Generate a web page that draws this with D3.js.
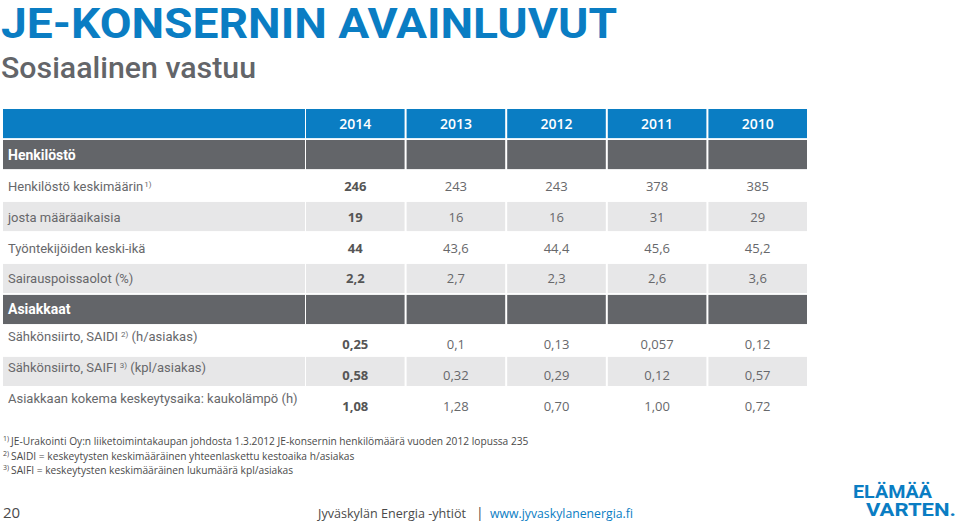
<!DOCTYPE html>
<html>
<head>
<meta charset="utf-8">
<script src="https://cdn.jsdelivr.net/npm/d3@7"></script>
<style>
  body { margin: 0; background: #fff; }
  svg { display: block; }
</style>
</head>
<body>
<svg id="chart"></svg>
<script>
// data
var years = ["2014", "2013", "2012", "2011", "2010"];
var rowLabels = ["Henkilöstö", "Henkilöstö keskimäärin", "josta määräaikaisia", "Työntekijöiden keski-ikä",
  "Sairauspoissaolot (%)", "Asiakkaat", "Sähkönsiirto, SAIDI", "Sähkönsiirto, SAIFI",
  "Asiakkaan kokema keskeytysaika: kaukolämpö (h)"];
var rowNotes = ["", "1)", "", "", "", "", "2)", "3)", ""];
var rowUnits = ["", "", "", "", "", "", " (h/asiakas)", " (kpl/asiakas)", ""];
var sectionRows = ["Henkilöstö", "Asiakkaat"];

var henkilosto = ["246", "243", "243", "378", "385"];
var maaraaikaiset = ["19", "16", "16", "31", "29"];
var keskiIka = ["44", "43,6", "44,4", "45,6", "45,2"];
var sairauspoissaolot = ["2,2", "2,7", "2,3", "2,6", "3,6"];
var saidi = ["0,25", "0,1", "0,13", "0,057", "0,12"];
var saifi = ["0,58", "0,32", "0,29", "0,12", "0,57"];
var kaukolampo = ["1,08", "1,28", "0,70", "1,00", "0,72"];
var rowValues = [null, henkilosto, maaraaikaiset, keskiIka, sairauspoissaolot, null, saidi, saifi, kaukolampo];

var footnotes = [
  ["1)", "JE-Urakointi Oy:n liiketoimintakaupan johdosta 1.3.2012 JE-konsernin henkilömäärä vuoden 2012 lopussa 235"],
  ["2)", "SAIDI = keskeytysten keskimääräinen yhteenlaskettu kestoaika h/asiakas"],
  ["3)", "SAIFI = keskeytysten keskimääräinen lukumäärä kpl/asiakas"]
];

var width = 960, height = 521;
var blue = "#0a7dc3", dark = "#636569", light = "#e7e7e8", txt = "#67686b";
var labelFont = "Roboto, 'DejaVu Sans', sans-serif";
var numFont = "'Open Sans', 'Liberation Sans', sans-serif";

var svg = d3.select("#chart").attr("width", width).attr("height", height);

// title
svg.append("text").attr("x", 1).attr("y", 38)
  .attr("font-family", labelFont).attr("font-weight", 700).attr("font-size", 42)
  .attr("fill", blue).attr("textLength", 616).attr("lengthAdjust", "spacingAndGlyphs")
  .text("JE-KONSERNIN AVAINLUVUT");
svg.append("text").attr("x", 1).attr("y", 78)
  .attr("font-family", labelFont).attr("font-weight", 500).attr("font-size", 30)
  .attr("fill", dark).attr("textLength", 255).attr("lengthAdjust", "spacingAndGlyphs")
  .text("Sosiaalinen vastuu");

// scales
var rowIdx = d3.range(rowLabels.length + 1); // 0 = header
var y = d3.scaleBand().domain(rowIdx).range([109, 417]).paddingInner(0.06);
var x = d3.scaleBand().domain(years).range([306, 807]).paddingInner(0.02);
var labelLeft = 3, labelRight = 305;

function rowFill(i) {
  if (i === 0) return blue;
  var lab = rowLabels[i - 1];
  if (sectionRows.indexOf(lab) >= 0) return dark;
  var k = i <= 5 ? i - 2 : i - 7;
  return k % 2 === 0 ? "#fff" : light;
}

var rows = svg.selectAll("g.row").data(rowIdx).enter().append("g").attr("class", "row");

rows.append("rect")
  .attr("x", labelLeft).attr("y", function(d) { return y(d); })
  .attr("width", labelRight - labelLeft).attr("height", y.bandwidth())
  .attr("fill", rowFill);

rows.each(function(d) {
  d3.select(this).selectAll("rect.cell").data(years).enter().append("rect")
    .attr("class", "cell")
    .attr("x", function(yr) { return x(yr); }).attr("y", y(d))
    .attr("width", x.bandwidth()).attr("height", y.bandwidth())
    .attr("fill", rowFill(d));
});

// header
svg.selectAll("text.year").data(years).enter().append("text")
  .attr("class", "year")
  .attr("x", function(d) { return x(d) + x.bandwidth() / 2; })
  .attr("y", y(0) + y.bandwidth() / 2 + 5)
  .attr("text-anchor", "middle").attr("fill", "#fff")
  .attr("font-family", numFont).attr("font-weight", 600).attr("font-size", 14)
  .text(function(d) { return d; });

// row labels + values
rowLabels.forEach(function(lab, j) {
  var i = j + 1;
  var isSection = sectionRows.indexOf(lab) >= 0;
  var shifted = i >= 7;
  var t = svg.append("text")
    .attr("x", 8)
    .attr("y", y(i) + y.bandwidth() / 2 + 5 - (shifted ? 4 : 0))
    .attr("font-family", labelFont)
    .attr("font-size", isSection ? 14 : 13)
    .attr("font-weight", isSection ? 700 : 400)
    .attr("fill", isSection ? "#fff" : txt);
  t.append("tspan").text(lab);
  if (rowNotes[j]) {
    t.append("tspan").attr("font-size", 8).attr("dy", -4).attr("dx", rowUnits[j] ? 3 : 1).text(rowNotes[j]);
    if (rowUnits[j]) t.append("tspan").attr("dy", 4).text(rowUnits[j]);
  }

  var vals = rowValues[j];
  if (!vals) return;
  svg.selectAll(null).data(vals).enter().append("text")
    .attr("x", function(v, k) { return x(years[k]) + x.bandwidth() / 2; })
    .attr("y", y(i) + y.bandwidth() / 2 + 5 + (shifted ? 4 : 0))
    .attr("text-anchor", "middle")
    .attr("font-family", numFont).attr("font-size", 13)
    .attr("font-weight", function(v, k) { return k === 0 ? 700 : 400; })
    .attr("fill", function(v, k) { return k === 0 ? "#555" : txt; })
    .text(function(v) { return v; });
});

// footnotes
footnotes.forEach(function(f, i) {
  var t = svg.append("text").attr("x", 3).attr("y", 445 + i * 14.5)
    .attr("font-family", numFont).attr("font-size", 10.2).attr("fill", "#4a4a4a");
  t.append("tspan").attr("font-size", 7).attr("dy", -4).text(f[0]);
  t.append("tspan").attr("dy", 4).attr("dx", 2).text(f[1]);
});

// footer
svg.append("text").attr("x", 3).attr("y", 518)
  .attr("font-family", numFont).attr("font-size", 15).attr("fill", "#4a4a4a").text("20");
svg.append("text").attr("x", 318).attr("y", 518)
  .attr("font-family", numFont).attr("font-size", 13).attr("fill", "#4a4a4a")
  .attr("textLength", 148).attr("lengthAdjust", "spacingAndGlyphs")
  .text("Jyväskylän Energia -yhtiöt");
svg.append("text").attr("x", 476).attr("y", 518)
  .attr("font-family", numFont).attr("font-size", 14).attr("fill", "#4a4a4a").text("|");
svg.append("text").attr("x", 490).attr("y", 518)
  .attr("font-family", numFont).attr("font-size", 13).attr("fill", blue)
  .attr("textLength", 143).attr("lengthAdjust", "spacingAndGlyphs")
  .text("www.jyvaskylanenergia.fi");

// logo (one text, two lines)
var logo = svg.append("text")
  .attr("font-family", labelFont).attr("font-weight", 700).attr("fill", blue);
logo.append("tspan").attr("x", 853).attr("y", 498).attr("font-size", 18)
  .attr("textLength", 79).attr("lengthAdjust", "spacingAndGlyphs").text("ELÄMÄÄ");
logo.append("tspan").attr("x", 866).attr("y", 516).attr("font-size", 19)
  .attr("textLength", 90).attr("lengthAdjust", "spacingAndGlyphs").text("VARTEN.");
</script>
</body>
</html>
